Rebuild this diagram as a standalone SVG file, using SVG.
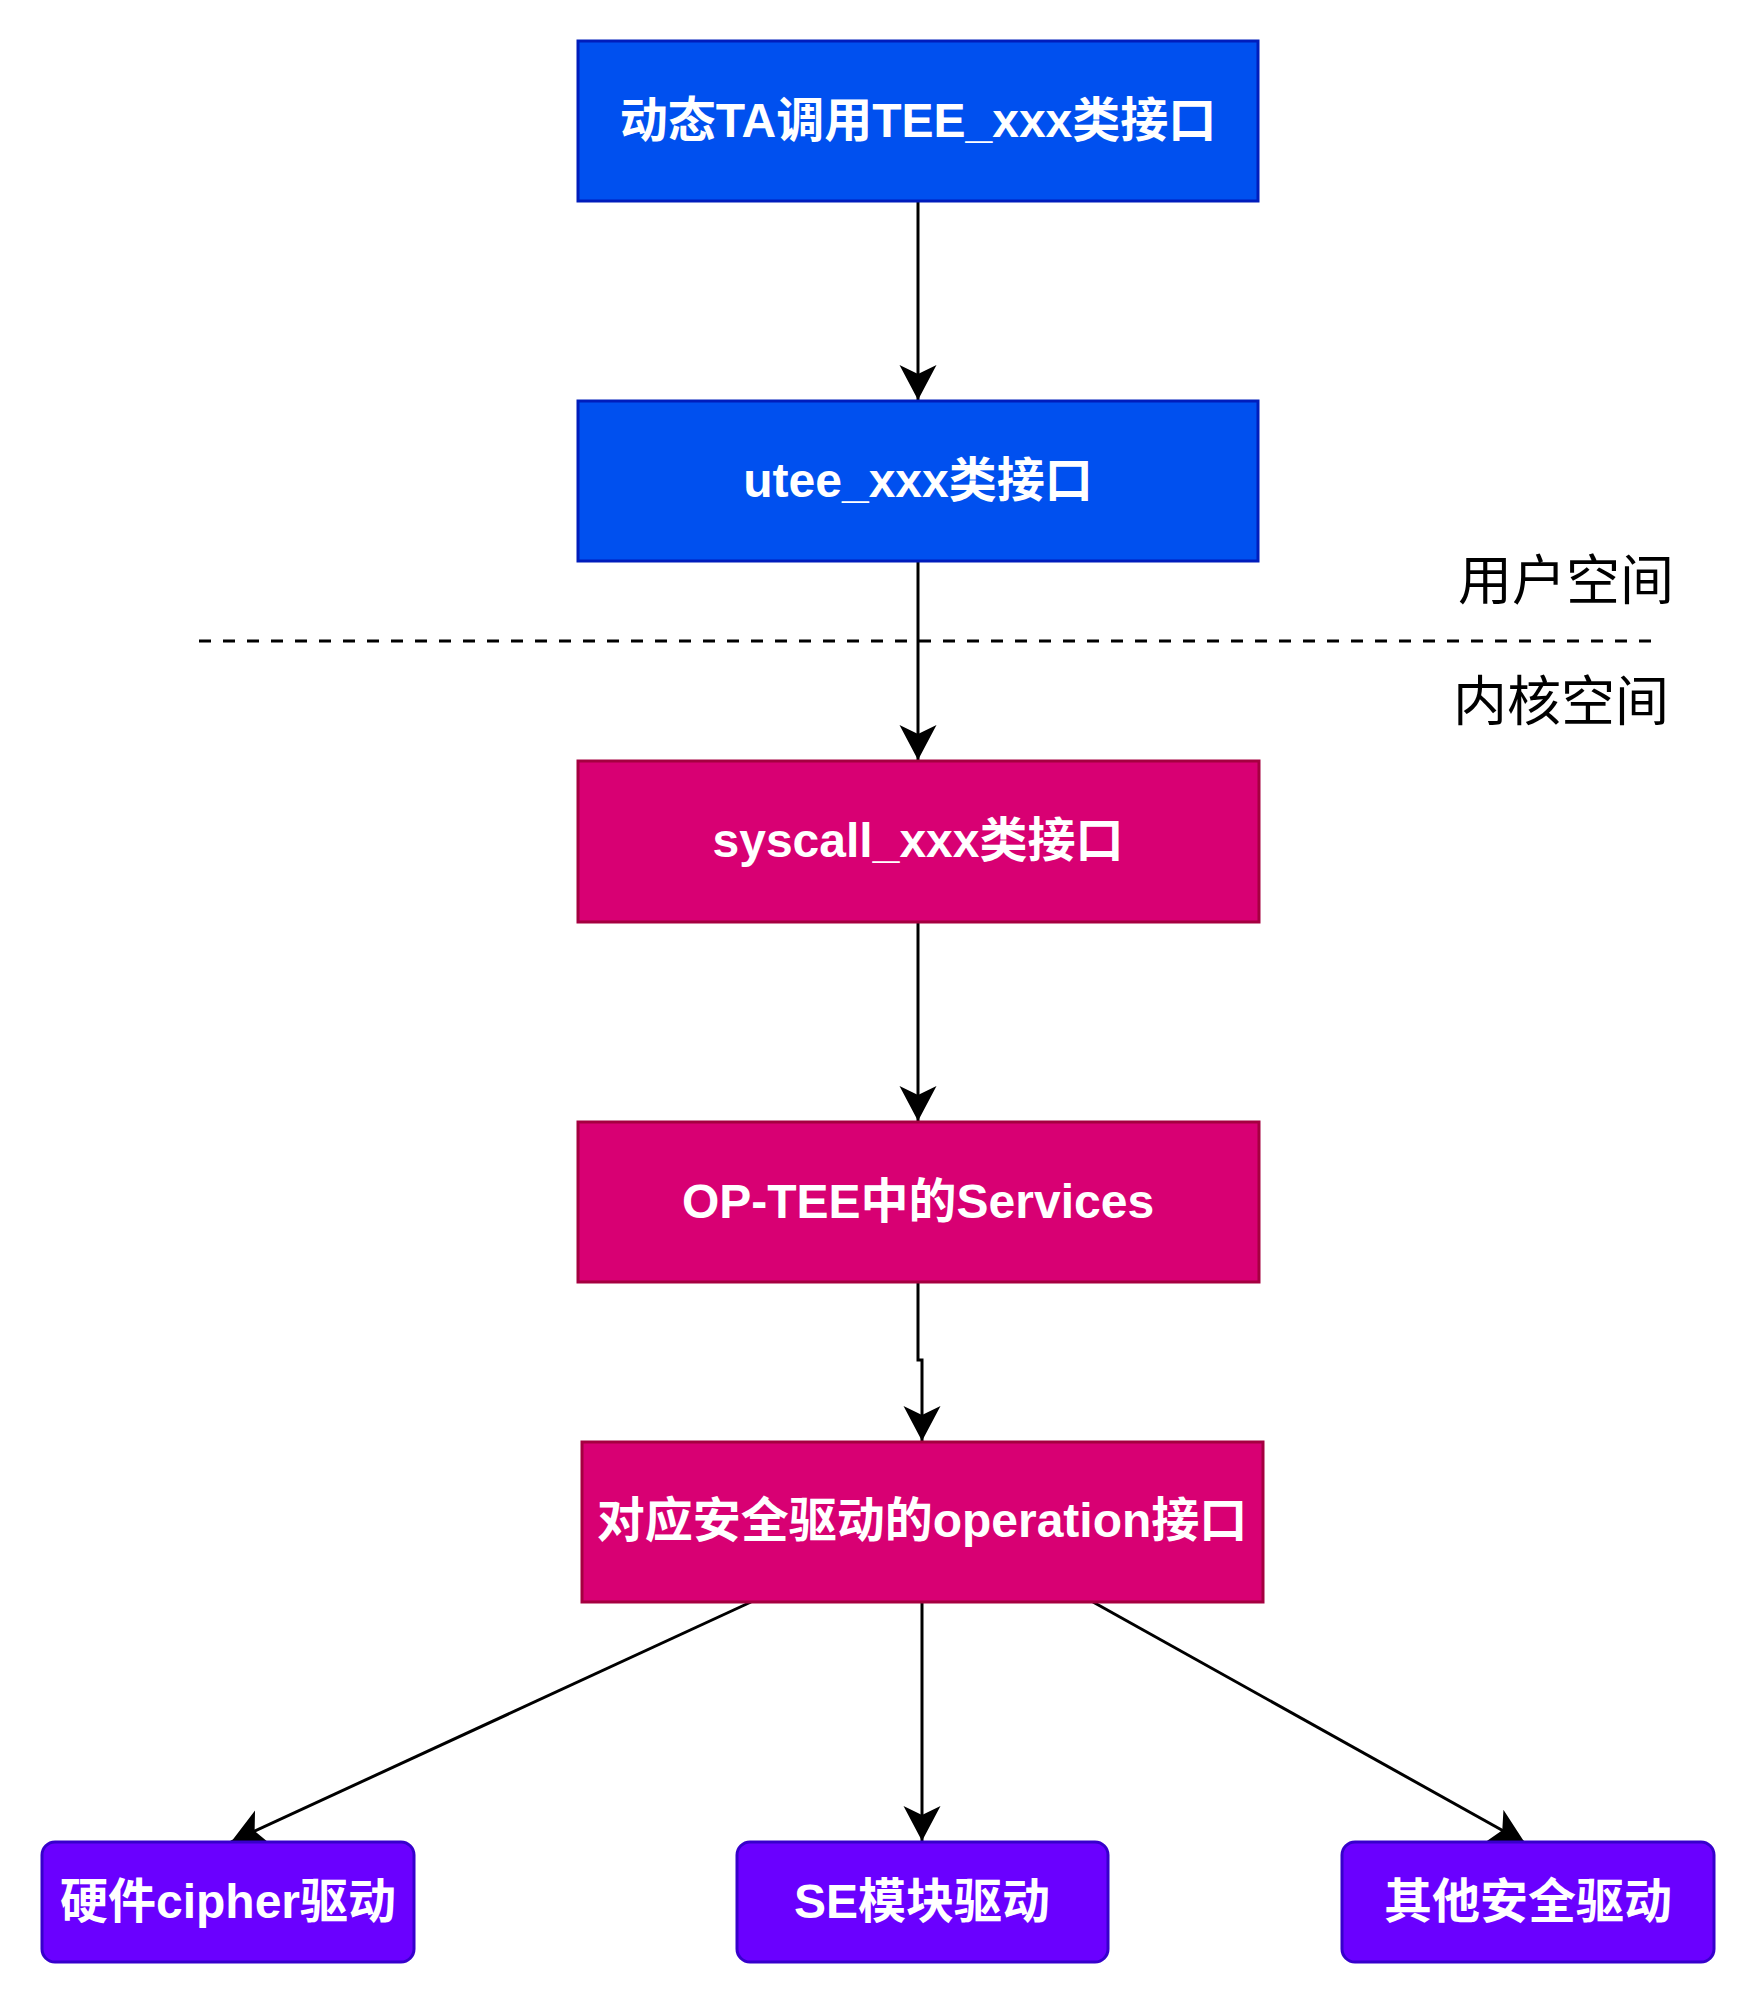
<svg xmlns="http://www.w3.org/2000/svg" width="1760" height="2008" viewBox="0 0 1760 2008">
<style>
.blue{fill:#0050EF;stroke:#001DBC;stroke-width:3}
.mag{fill:#D80073;stroke:#A50040;stroke-width:3}
.vio{fill:#6A00FF;stroke:#3700CC;stroke-width:3}
.t{font-family:"Liberation Sans","Noto Sans CJK SC",sans-serif;font-weight:bold;font-size:48px;fill:#FFFFFF;text-anchor:middle}
.lbl{font-family:"Noto Sans CJK SC","Liberation Sans",sans-serif;font-size:54px;fill:#000000}
.e{fill:none;stroke:#000000;stroke-width:3}
</style>
<defs>
<marker id="arr" markerUnits="userSpaceOnUse" markerWidth="40" markerHeight="40" refX="35" refY="18.5" orient="auto">
<path d="M0,0 L35,18.5 L0,37 L9,18.5 Z" fill="#000000"/>
</marker>
</defs>
<rect width="1760" height="2008" fill="#FFFFFF"/>
<g id="divider">
<line x1="199" y1="641" x2="1660" y2="641" stroke="#000000" stroke-width="3" stroke-dasharray="12 12"/>
<text class="lbl" x="1458" y="600">用户空间</text>
<text class="lbl" x="1453" y="721">内核空间</text>
</g>
<g id="connectors">
<path class="e" d="M918,201 V400" marker-end="url(#arr)"/>
<path class="e" d="M918,561 V760" marker-end="url(#arr)"/>
<path class="e" d="M918,922 V1121" marker-end="url(#arr)"/>
<path class="e" d="M918,1282 V1360 H922 V1441" marker-end="url(#arr)"/>
<path class="e" d="M751,1602 L231,1842" marker-end="url(#arr)"/>
<path class="e" d="M922,1602 V1841" marker-end="url(#arr)"/>
<path class="e" d="M1093,1602 L1525,1843" marker-end="url(#arr)"/>
</g>
<g id="n1">
<rect class="blue" x="578" y="41" width="680" height="160"/>
<text class="t" x="918" y="137">动态TA调用TEE_xxx类接口</text>
</g>
<g id="n2">
<rect class="blue" x="578" y="401" width="680" height="160"/>
<text class="t" x="918" y="497">utee_xxx类接口</text>
</g>
<g id="n3">
<rect class="mag" x="578" y="761" width="681" height="161"/>
<text class="t" x="918" y="857">syscall_xxx类接口</text>
</g>
<g id="n4">
<rect class="mag" x="578" y="1122" width="681" height="160"/>
<text class="t" x="918" y="1218">OP-TEE中的Services</text>
</g>
<g id="n5">
<rect class="mag" x="582" y="1442" width="681" height="160"/>
<text class="t" x="922" y="1537">对应安全驱动的operation接口</text>
</g>
<g id="n6">
<rect class="vio" x="42" y="1842" width="372" height="120" rx="13"/>
<text class="t" x="228" y="1918">硬件cipher驱动</text>
</g>
<g id="n7">
<rect class="vio" x="737" y="1842" width="371" height="120" rx="13"/>
<text class="t" x="922" y="1918">SE模块驱动</text>
</g>
<g id="n8">
<rect class="vio" x="1342" y="1842" width="372" height="120" rx="13"/>
<text class="t" x="1528" y="1918">其他安全驱动</text>
</g>
</svg>
